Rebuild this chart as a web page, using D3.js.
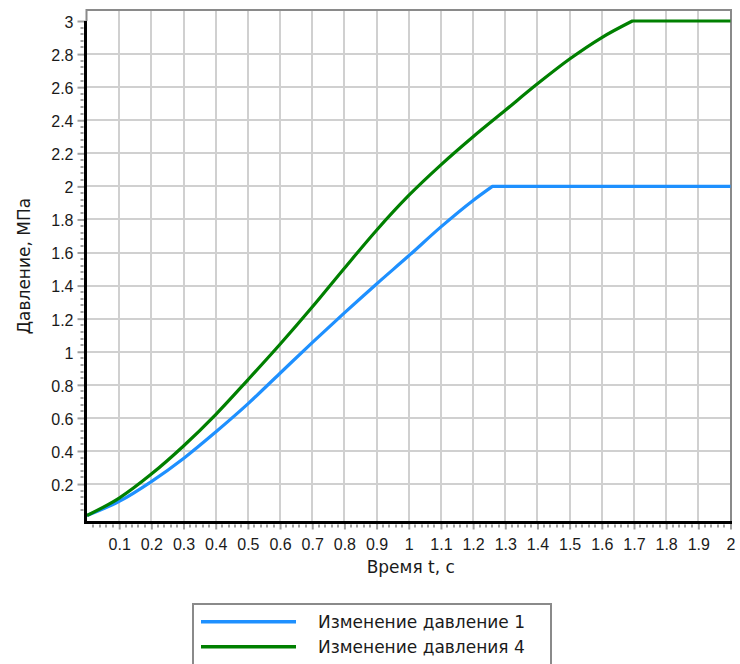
<!DOCTYPE html>
<html>
<head>
<meta charset="utf-8">
<script src="https://cdn.jsdelivr.net/npm/d3@7/dist/d3.min.js"></script>
<style>
  html, body { margin: 0; padding: 0; background: #ffffff; }
  svg { display: block; }
</style>
</head>
<body>
<svg id="chart" width="740" height="664"></svg>
<script>
// Time samples (s) and pressure values (MPa) for the two curves
const time1 = [0, 0.1, 0.2, 0.3, 0.4, 0.5, 0.6, 0.7, 0.8, 0.9, 1.0, 1.1, 1.2, 1.26, 2.0];
const pressure1 = [0.01, 0.095, 0.215, 0.355, 0.515, 0.685, 0.87, 1.055, 1.235, 1.41, 1.58, 1.755, 1.915, 2.0, 2.0];

const time4 = [0, 0.1, 0.2, 0.3, 0.4, 0.5, 0.6, 0.7, 0.8, 0.9, 1.0, 1.1, 1.2, 1.3, 1.4, 1.5, 1.6, 1.695, 2.0];
const pressure4 = [0.01, 0.115, 0.26, 0.43, 0.62, 0.83, 1.045, 1.27, 1.505, 1.735, 1.945, 2.13, 2.30, 2.46, 2.62, 2.77, 2.90, 3.0, 3.0];

const seriesNames = ["Изменение давление 1", "Изменение давления 4"];
const seriesColors = ["#1e90ff", "#008000"];

const xTicks = [0.1, 0.2, 0.3, 0.4, 0.5, 0.6, 0.7, 0.8, 0.9, 1, 1.1, 1.2, 1.3, 1.4, 1.5, 1.6, 1.7, 1.8, 1.9, 2];
const yTicks = [0.2, 0.4, 0.6, 0.8, 1, 1.2, 1.4, 1.6, 1.8, 2, 2.2, 2.4, 2.6, 2.8, 3];

const xTitle = "Время t, с";
const yTitle = "Давление, МПа";

const svg = d3.select("#chart");

// plot frame
const frame = { left: 85.5, right: 731, top: 10, bottom: 522.5 };
const x = d3.scaleLinear().domain([0, 2]).range([87, 730.5]);
const y = d3.scaleLinear().domain([0, 3]).range([517.1, 21]);

const tickFont = "'Liberation Sans', Arial, sans-serif";
const textFont = "'DejaVu Sans', sans-serif";

// grid
const grid = svg.append("g");
grid.selectAll("line.v").data(xTicks.filter(d => d < 2)).join("line")
  .attr("x1", d => Math.round(x(d))).attr("x2", d => Math.round(x(d)))
  .attr("y1", frame.top).attr("y2", frame.bottom)
  .attr("stroke", "#d0d0d0").attr("stroke-width", 2);
grid.selectAll("line.h").data(yTicks.filter(d => d < 3)).join("line")
  .attr("x1", frame.left).attr("x2", frame.right)
  .attr("y1", d => Math.round(y(d))).attr("y2", d => Math.round(y(d)))
  .attr("stroke", "#d0d0d0").attr("stroke-width", 2);

// top and right border
svg.append("path")
  .attr("d", `M${frame.left + 1},${y(3)} V${frame.top} H${frame.right} V${frame.bottom}`)
  .attr("fill", "none").attr("stroke", "#8a8a8a").attr("stroke-width", 2);

// minor ticks
const xMinor = d3.range(0, 100).map(i => i * 0.02).filter(d => d > 0.001 && Math.abs(d * 10 - Math.round(d * 10)) > 0.01);
svg.append("g").selectAll("line").data(xMinor).join("line")
  .attr("x1", d => Math.round(x(d))).attr("x2", d => Math.round(x(d)))
  .attr("y1", frame.bottom + 2).attr("y2", frame.bottom + 5)
  .attr("stroke", "#a0a0a0").attr("stroke-width", 2);
const yMinor = d3.range(0, 76).map(i => i * 0.04).filter(d => d > 0.001 && Math.abs(d * 5 - Math.round(d * 5)) > 0.01);
svg.append("g").selectAll("line").data(yMinor).join("line")
  .attr("x1", frame.left - 5).attr("x2", frame.left - 2)
  .attr("y1", d => Math.round(y(d))).attr("y2", d => Math.round(y(d)))
  .attr("stroke", "#a0a0a0").attr("stroke-width", 2);

// axes through d3 axis generators
const xAxis = d3.axisBottom(x).tickValues(xTicks).tickSize(7).tickPadding(9)
  .tickFormat(d => String(+d.toFixed(1)));
const gx = svg.append("g").attr("transform", `translate(0,${frame.bottom})`).call(xAxis);
gx.select(".domain").remove();
gx.selectAll(".tick line").attr("stroke", "#a0a0a0").attr("stroke-width", 2);
gx.selectAll(".tick text").attr("font-family", tickFont).attr("font-size", 16).attr("fill", "#1a1a1a");

const yAxis = d3.axisLeft(y).tickValues(yTicks).tickSize(8).tickPadding(4)
  .tickFormat(d => String(+d.toFixed(1)));
const gy = svg.append("g").attr("transform", `translate(${frame.left},0)`).call(yAxis);
gy.select(".domain").remove();
gy.selectAll(".tick line").attr("stroke", "#a0a0a0").attr("stroke-width", 2);
gy.selectAll(".tick text").attr("font-family", tickFont).attr("font-size", 16).attr("fill", "#1a1a1a").attr("dy", "0.4em");

// curves: smooth rise, then a straight plateau from the last point
const smooth = d3.line().x(d => x(d[0])).y(d => y(d[1])).curve(d3.curveMonotoneX);
function curvePath(ts, vs) {
  const pts = ts.map((t, i) => [t, vs[i]]);
  const rise = pts.slice(0, -1);
  const last = pts[pts.length - 1];
  return smooth(rise) + `L${x(last[0])},${y(last[1])}`;
}
svg.append("path").attr("d", curvePath(time1, pressure1))
  .attr("fill", "none").attr("stroke", seriesColors[0]).attr("stroke-width", 3.2).attr("stroke-linejoin", "round");
svg.append("path").attr("d", curvePath(time4, pressure4))
  .attr("fill", "none").attr("stroke", seriesColors[1]).attr("stroke-width", 3.2).attr("stroke-linejoin", "round");

// black axis lines
svg.append("path")
  .attr("d", `M${frame.left},${y(3)} V${frame.bottom} H${frame.right + 1}`)
  .attr("fill", "none").attr("stroke", "#000").attr("stroke-width", 3);

// axis titles
svg.append("text").attr("x", (x(0) + x(2)) / 2 + 2).attr("y", 573)
  .attr("text-anchor", "middle").attr("font-family", textFont).attr("font-size", 17).attr("fill", "#1a1a1a")
  .text(xTitle);
svg.append("text").attr("transform", `translate(30,266) rotate(-90)`)
  .attr("text-anchor", "middle").attr("font-family", textFont).attr("font-size", 17).attr("fill", "#1a1a1a")
  .text(yTitle);

// legend
const legend = svg.append("g");
legend.append("rect").attr("x", 193).attr("y", 604).attr("width", 358).attr("height", 64)
  .attr("fill", "#fff").attr("stroke", "#8a8a8a").attr("stroke-width", 2);
seriesNames.forEach((name, i) => {
  const ly = 621.7 + i * 25;
  legend.append("line").attr("x1", 201).attr("x2", 296).attr("y1", ly).attr("y2", ly)
    .attr("stroke", seriesColors[i]).attr("stroke-width", 3.5);
  legend.append("text").attr("x", 318).attr("y", ly + 6)
    .attr("font-family", textFont).attr("font-size", 17).attr("fill", "#1a1a1a")
    .text(name);
});
</script>
</body>
</html>
